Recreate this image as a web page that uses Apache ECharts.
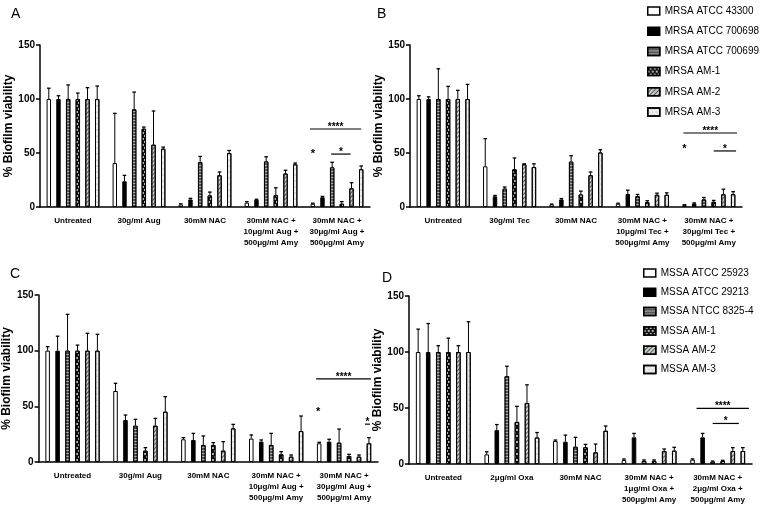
<!DOCTYPE html>
<html><head><meta charset="utf-8">
<script src="https://cdn.jsdelivr.net/npm/echarts@6/dist/echarts.min.js"></script>
<style>html,body{margin:0;padding:0;background:#fff}#c{width:763px;height:512px}</style>
</head><body><div id="c"></div>
<script>
// ---------- data ----------
const strainsMRSA = ['MRSA ATCC 43300','MRSA ATCC 700698','MRSA ATCC 700699','MRSA AM-1','MRSA AM-2','MRSA AM-3'];
const strainsMSSA = ['MSSA ATCC 25923','MSSA ATCC 29213','MSSA NTCC 8325-4','MSSA AM-1','MSSA AM-2','MSSA AM-3'];

const catsA = ['Untreated','30g/ml Aug','30mM NAC','30mM NAC +\n10μg/ml Aug +\n500μg/ml Amy','30mM NAC +\n30μg/ml Aug +\n500μg/ml Amy'];
const catsB = ['Untreated','30g/ml Tec','30mM NAC','30mM NAC +\n10μg/ml Tec +\n500μg/ml Amy','30mM NAC +\n30μg/ml Tec +\n500μg/ml Amy'];
const catsC = ['Untreated','30g/ml Aug','30mM NAC','30mM NAC +\n10μg/ml Aug +\n500μg/ml Amy','30mM NAC +\n30μg/ml Aug +\n500μg/ml Amy'];
const catsD = ['Untreated','2μg/ml Oxa','30mM NAC','30mM NAC +\n1μg/ml Oxa +\n500μg/ml Amy','30mM NAC +\n2μg/ml Oxa +\n500μg/ml Amy'];

const yTicks = [0, 50, 100, 150];

// mean per strain (rows) across treatments (cols)
const meanA = [
  [100, 40.7, 2.4, 4, 3],
  [100, 23.8, 7, 6.7, 9],
  [100, 90.4, 41.6, 42.2, 36.7],
  [100, 72.5, 10.7, 11, 3],
  [100, 57.7, 29.4, 31, 17.3],
  [100, 54, 49.9, 39.5, 35]
];
const sdA = [
  [10, 46, 0.5, 1, 0.5],
  [3, 5.5, 1, 0.5, 0.8],
  [13, 16, 5.2, 4.3, 4.7],
  [5.5, 1.5, 3.1, 6.8, 2],
  [10.5, 31.2, 3, 3, 5.2],
  [12, 1.5, 2.4, 1.2, 3]
];
const meanB = [
  [100, 37.7, 2.4, 3, 1.8],
  [100, 9.9, 7, 12, 3.3],
  [100, 17, 42, 10, 7],
  [100, 34.9, 11.6, 4.5, 4.8],
  [100, 39.5, 29.4, 11.3, 11.8],
  [100, 37, 50.5, 11.3, 11.8]
];
const sdB = [
  [3, 25.6, 0.3, 0.5, 0.3],
  [2, 0.8, 0.8, 3.6, 0.5],
  [28, 1.5, 5.5, 1.6, 1.8],
  [11.7, 10.5, 3.1, 1.3, 1.3],
  [8, 0.5, 3, 1.5, 4.7],
  [13.5, 3, 2.5, 1.8, 2.4]
];
const meanC = [
  [100, 63.8, 20.4, 21, 16.8],
  [100, 37.7, 19.8, 18.3, 18.3],
  [100, 32.6, 15.3, 15.3, 17.4],
  [100, 10.2, 15.3, 6.9, 5.4],
  [100, 32.6, 10.2, 4.8, 4.8],
  [100, 45.2, 30.2, 27.8, 16.8]
];
const sdC = [
  [3.6, 6.9, 1.5, 3.3, 0.9],
  [13, 4.5, 5.9, 1.5, 2.1],
  [32.6, 5.7, 8.1, 10.4, 12.2],
  [5, 2.7, 2.1, 2.4, 1.5],
  [15.6, 6.6, 8.1, 1.5, 1.5],
  [14.7, 13.5, 3.6, 13.5, 5.1]
];
const meanD = [
  [100, 8.6, 20.5, 3.6, 3.9],
  [100, 30.2, 19.9, 23.8, 23.8],
  [100, 78.4, 15.4, 2.7, 2.1],
  [100, 37.6, 14.9, 2.7, 2.7],
  [100, 54.4, 10.4, 11.6, 11.6],
  [100, 23.7, 29.7, 11.9, 11.6]
];
const sdD = [
  [20.4, 2.3, 0.9, 0.9, 0.6],
  [25.4, 5, 5.9, 3.5, 3.5],
  [5.6, 8.9, 8.4, 0.9, 0.5],
  [12.4, 13.9, 2.6, 0.9, 0.6],
  [5.6, 16.3, 7.4, 1.8, 3],
  [27, 4.4, 4.2, 3, 3]
];
// significance marks: [treatment index, y value, from bar, to bar, label]
const sigA = [[4, 72.2, -0.3, 5, '****'], [4, 49, 1.9, 3.9, '*'], [4, 51, 0, 0, '*']];
const sigB = [[4, 68.5, -0.1, 5.4, '****'], [4, 51.9, 3, 5.3, '*'], [4, 55.6, 0, 0, '*']];
const sigC = [[4, 74.6, -0.3, 5.2, '****'], [4, 34, 4.6, 5.1, '*'], [4, 46.7, -0.1, -0.1, '*']];
const sigD = [[4, 49.6, 0.4, 5.6, '****'], [4, 36.2, 2.0, 4.6, '*']];

// ---------- styling ----------
const FONT = 'Liberation Sans, Arial, sans-serif';
const barStyles = [
  {color: '#ffffff'},
  {color: '#000000'},
  {color: '#555555', decal: {symbol: 'rect', symbolSize: 1, dashArrayX: [1, 0], dashArrayY: [1, 1.5], color: '#aaaaaa'}},
  {color: '#111111', decal: {symbol: 'circle', symbolSize: 0.9, dashArrayX: [[2, 2], [0, 2, 2, 0]], dashArrayY: [2, 1], color: '#ffffff'}},
  {color: '#c8cfc8', decal: {symbol: 'rect', symbolSize: 1, dashArrayX: [1, 0], dashArrayY: [1, 1.5], rotation: -Math.PI / 4, color: '#555555'}},
  {color: '#eeeeee', decal: {symbol: 'circle', symbolSize: 0.6, dashArrayX: [[1.5, 1.5], [0, 1.5, 1.5, 0]], dashArrayY: [1.5, 0.5], color: '#999999'}}
];
const BAR_GAP = 1.2, CAT_GAP = 0.2;

function barX(api, cat, p) {
  const c = api.coord([cat, 0])[0];
  const band = api.size([1, 0])[0];
  const w = (1 - CAT_GAP) * band / (6 + 5 * BAR_GAP);
  const total = 6 * w + 5 * BAR_GAP * w;
  return c - total / 2 + w / 2 + (1 + BAR_GAP) * w * p;
}

function errRender(params, api) {
  const cat = api.value(0), idx = api.value(1), m = api.value(2), sd = api.value(3);
  const x = barX(api, cat, idx);
  const y0 = api.coord([cat, m])[1];
  const y1 = api.coord([cat, m + sd])[1];
  return {type: 'group', children: [
    {type: 'line', shape: {x1: x, y1: y0, x2: x, y2: y1}, style: {stroke: '#000', lineWidth: 1}},
    {type: 'line', shape: {x1: x - 1.8, y1: y1, x2: x + 1.8, y2: y1}, style: {stroke: '#000', lineWidth: 1.3}}
  ]};
}

function sigRender(params, api) {
  const cat = api.value(0), v = api.value(1), p1 = api.value(2), p2 = api.value(3);
  const label = sigRaw[params.seriesName][params.dataIndex][4];
  const y = api.coord([cat, v])[1];
  const x1 = barX(api, cat, p1), x2 = barX(api, cat, p2);
  const children = [];
  if (p1 !== p2) {
    children.push({type: 'line', shape: {x1: x1, y1: y, x2: x2, y2: y}, style: {stroke: '#000', lineWidth: 1.2}});
    children.push({type: 'text', x: (x1 + x2) / 2, y: y - 2, style: {text: label, fill: '#000', font: 'bold 10px Liberation Sans, Arial', align: 'center', verticalAlign: 'middle'}});
  } else {
    children.push({type: 'text', x: x1, y: y + 2, style: {text: label, fill: '#000', font: 'bold 11px Liberation Sans, Arial', align: 'center', verticalAlign: 'middle'}});
  }
  return {type: 'group', children: children};
}

const panels = [
  {cats: catsA, mean: meanA, sd: sdA, sig: sigA, names: strainsMRSA, grid: {left: 40, top: 45, width: 330, height: 162}, gap: 23.5},
  {cats: catsB, mean: meanB, sd: sdB, sig: sigB, names: strainsMRSA, grid: {left: 410, top: 45, width: 332, height: 162}, gap: 24.5},
  {cats: catsC, mean: meanC, sd: sdC, sig: sigC, names: strainsMSSA, grid: {left: 35, top: 295, width: 343, height: 167}, gap: 20.5},
  {cats: catsD, mean: meanD, sd: sdD, sig: sigD, names: strainsMSSA, grid: {left: 409, top: 296, width: 343, height: 168}, gap: 19.5}
];
const sigRaw = {};

const grids = [], xAxes = [], yAxes = [], series = [];
panels.forEach((p, pi) => {
  grids.push(p.grid);
  xAxes.push({
    type: 'category', gridIndex: pi, data: p.cats,
    axisLine: {lineStyle: {color: '#000', width: 1.5}},
    axisTick: {alignWithLabel: true, length: 4, lineStyle: {color: '#000', width: 1.5}},
    axisLabel: {interval: 0, color: '#000', fontSize: 8, lineHeight: 11, fontWeight: 'bold', fontFamily: FONT, margin: 8}
  });
  yAxes.push({
    type: 'value', gridIndex: pi, min: yTicks[0], max: yTicks[yTicks.length - 1], interval: 50,
    name: '% Biofilm viability', nameLocation: 'middle', nameGap: p.gap,
    nameTextStyle: {color: '#000', fontSize: 12, fontWeight: 'bold', fontFamily: FONT},
    splitLine: {show: false},
    axisLine: {show: true, lineStyle: {color: '#000', width: 1.5}},
    axisTick: {show: true, length: 4, lineStyle: {color: '#000', width: 1.5}},
    axisLabel: {color: '#000', fontSize: 10, fontWeight: 'bold', fontFamily: FONT, margin: 5}
  });
  p.mean.forEach((row, si) => {
    series.push({
      type: 'bar', name: p.names[si], xAxisIndex: pi, yAxisIndex: pi, data: row,
      barGap: (BAR_GAP * 100) + '%', barCategoryGap: (CAT_GAP * 100) + '%',
      itemStyle: Object.assign({borderColor: '#000', borderWidth: 1}, barStyles[si]),
      emphasis: {disabled: true}, animation: false
    });
  });
  const errData = [];
  p.mean.forEach((row, si) => row.forEach((m, ci) => errData.push([ci, si, m, p.sd[si][ci]])));
  series.push({type: 'custom', name: 'err' + pi, xAxisIndex: pi, yAxisIndex: pi, renderItem: errRender, data: errData, z: 5, silent: true, animation: false});
  const sname = 'sig' + pi;
  sigRaw[sname] = p.sig;
  series.push({type: 'custom', name: sname, xAxisIndex: pi, yAxisIndex: pi, renderItem: sigRender, clip: false,
    data: p.sig.map(s => [s[0], s[1], s[2], s[3]]), z: 6, silent: true, animation: false});
});

const legendCommon = {
  orient: 'vertical', selectedMode: false, icon: 'rect', itemWidth: 12, itemHeight: 8,
  itemStyle: {borderColor: '#000', borderWidth: 1.5},
  textStyle: {color: '#000', fontSize: 10, fontFamily: FONT, lineHeight: 12}
};

const chart = echarts.init(document.getElementById('c'), null, {renderer: 'canvas'});
chart.setOption({
  animation: false,
  backgroundColor: '#fff',
  title: [
    {text: 'A', left: 6, top: 2, textStyle: {fontSize: 14, fontWeight: 'normal', color: '#000', fontFamily: FONT}},
    {text: 'B', left: 372, top: 2, textStyle: {fontSize: 14, fontWeight: 'normal', color: '#000', fontFamily: FONT}},
    {text: 'C', left: 5, top: 262, textStyle: {fontSize: 14, fontWeight: 'normal', color: '#000', fontFamily: FONT}},
    {text: 'D', left: 377, top: 266, textStyle: {fontSize: 14, fontWeight: 'normal', color: '#000', fontFamily: FONT}}
  ],
  legend: [
    Object.assign({}, legendCommon, {data: strainsMRSA, left: 642, top: 0, itemGap: 8.2}),
    Object.assign({}, legendCommon, {data: strainsMSSA, left: 638, top: 262, itemGap: 7.3})
  ],
  grid: grids, xAxis: xAxes, yAxis: yAxes, series: series
});
</script></body></html>
